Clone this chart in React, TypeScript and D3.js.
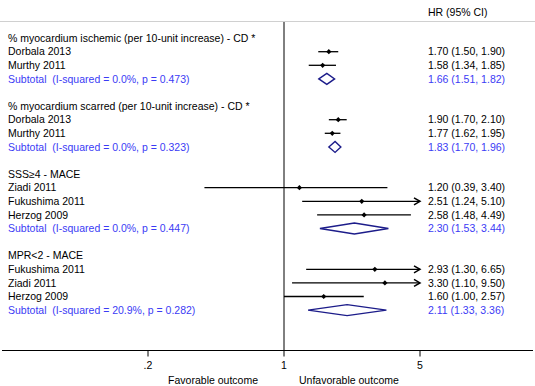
import { useEffect, useRef } from "react";
import * as d3 from "d3";

// group headings
const groupTitles = [
  "% myocardium ischemic (per 10-unit increase) - CD *",
  "% myocardium scarred (per 10-unit increase) - CD *",
  "SSS≥4 - MACE",
  "MPR<2 - MACE",
];

// studies per group
const studyNames = [
  ["Dorbala 2013", "Murthy 2011"],
  ["Dorbala 2013", "Murthy 2011"],
  ["Ziadi 2011", "Fukushima 2011", "Herzog 2009"],
  ["Fukushima 2011", "Ziadi 2011", "Herzog 2009"],
];
const studyHR = [
  [1.7, 1.58],
  [1.9, 1.77],
  [1.2, 2.51, 2.58],
  [2.93, 3.3, 1.6],
];
const studyLo = [
  [1.5, 1.34],
  [1.7, 1.62],
  [0.39, 1.24, 1.48],
  [1.3, 1.1, 1.0],
];
const studyHi = [
  [1.9, 1.85],
  [2.1, 1.95],
  [3.4, 5.1, 4.49],
  [6.65, 9.5, 2.57],
];

// pooled estimates
const subtotalI2 = ["0.0%", "0.0%", "0.0%", "20.9%"];
const subtotalP = ["0.473", "0.323", "0.447", "0.282"];
const subtotalHR = [1.66, 1.83, 2.3, 2.11];
const subtotalLo = [1.51, 1.7, 1.53, 1.33];
const subtotalHi = [1.82, 1.96, 3.44, 3.36];

const tickValues = [0.2, 1, 5];
const tickLabels = [".2", "1", "5"];

type Row = {
  kind: "head" | "study" | "sub";
  label: string;
  hr?: number;
  lo?: number;
  hi?: number;
};

const fmt = (v: number) => v.toFixed(2);

export default function App() {
  const ref = useRef<SVGSVGElement>(null);

  useEffect(() => {
    if (!ref.current) return;
    const svg = d3.select(ref.current);
    svg.selectAll("*").remove();

    const width = 535;
    const font = "'Liberation Sans', Arial, Helvetica, sans-serif";
    const fontSize = 10.5;
    const blue = "#3b3bf5";
    const navy = "#1c1c8a";

    // build rows with a blank line between groups
    const rows: (Row & { index: number })[] = [];
    let idx = 0;
    groupTitles.forEach((title, g) => {
      rows.push({ kind: "head", label: title, index: idx++ });
      studyNames[g].forEach((name, s) => {
        rows.push({
          kind: "study",
          label: name,
          hr: studyHR[g][s],
          lo: studyLo[g][s],
          hi: studyHi[g][s],
          index: idx++,
        });
      });
      rows.push({
        kind: "sub",
        label: `Subtotal  (I-squared = ${subtotalI2[g]}, p = ${subtotalP[g]})`,
        hr: subtotalHR[g],
        lo: subtotalLo[g],
        hi: subtotalHi[g],
        index: idx++,
      });
      idx++; // blank
    });

    const x = d3.scaleLog().domain([0.2, 5]).range([148, 420]);
    const y = d3.scaleLinear().domain([0, 20]).range([38.1, 310.1]);
    const axisY = 350.5;

    // header
    svg.append("text")
      .attr("x", 428).attr("y", 16)
      .attr("font-family", font).attr("font-size", fontSize)
      .text("HR (95% CI)");

    svg.append("line")
      .attr("x1", 0).attr("x2", width)
      .attr("y1", 21.5).attr("y2", 21.5)
      .attr("stroke", "#d0d0d0").attr("stroke-width", 1);

    // null line
    svg.append("line")
      .attr("x1", x(1)).attr("x2", x(1))
      .attr("y1", 22).attr("y2", axisY)
      .attr("stroke", "#000").attr("stroke-width", 1);

    // labels on the left
    svg.append("g").selectAll("text")
      .data(rows)
      .enter().append("text")
      .attr("x", 8)
      .attr("y", d => y(d.index))
      .attr("dy", "0.35em")
      .attr("font-family", font).attr("font-size", fontSize)
      .attr("fill", d => (d.kind === "sub" ? blue : "#000"))
      .style("white-space", "pre")
      .text(d => d.label);

    // values on the right
    const valued = rows.filter(d => d.kind !== "head");
    svg.append("g").selectAll("text")
      .data(valued)
      .enter().append("text")
      .attr("x", 428)
      .attr("y", d => y(d.index))
      .attr("dy", "0.35em")
      .attr("font-family", font).attr("font-size", fontSize)
      .attr("fill", d => (d.kind === "sub" ? blue : "#000"))
      .text(d => `${fmt(d.hr!)} (${fmt(d.lo!)}, ${fmt(d.hi!)})`);

    // study CIs
    const [xMin, xMax] = x.domain();
    const studies = rows.filter(d => d.kind === "study");
    const sg = svg.append("g");
    studies.forEach(d => {
      const cy = y(d.index);
      const x1 = x(Math.max(d.lo!, xMin));
      const x2 = x(Math.min(d.hi!, xMax));
      sg.append("line")
        .attr("x1", x1).attr("x2", x2)
        .attr("y1", cy).attr("y2", cy)
        .attr("stroke", "#000").attr("stroke-width", 1.3);
      if (d.hi! > xMax) {
        sg.append("path")
          .attr("d", `M${x2 - 6},${cy - 3.5}L${x2},${cy}L${x2 - 6},${cy + 3.5}`)
          .attr("fill", "none").attr("stroke", "#000").attr("stroke-width", 1.5);
      }
      const px = x(d.hr!);
      const r = 2.6;
      sg.append("path")
        .attr("d", `M${px},${cy - r}L${px + r},${cy}L${px},${cy + r}L${px - r},${cy}Z`)
        .attr("fill", "#000");
    });

    // pooled diamonds
    const subs = rows.filter(d => d.kind === "sub");
    svg.append("g").selectAll("path")
      .data(subs)
      .enter().append("path")
      .attr("d", d => {
        const cy = y(d.index);
        const h = 5.5;
        return `M${x(d.lo!)},${cy}L${x(d.hr!)},${cy - h}L${x(d.hi!)},${cy}L${x(d.hr!)},${cy + h}Z`;
      })
      .attr("fill", "none").attr("stroke", navy).attr("stroke-width", 1.4);

    // x axis
    svg.append("line")
      .attr("x1", 2).attr("x2", 533)
      .attr("y1", axisY).attr("y2", axisY)
      .attr("stroke", "#000").attr("stroke-width", 1);

    const ticks = svg.append("g");
    tickValues.forEach((v, i) => {
      ticks.append("line")
        .attr("x1", x(v)).attr("x2", x(v))
        .attr("y1", axisY).attr("y2", axisY + 6)
        .attr("stroke", "#000").attr("stroke-width", 1);
      ticks.append("text")
        .attr("x", x(v)).attr("y", 369)
        .attr("text-anchor", "middle")
        .attr("font-family", font).attr("font-size", fontSize)
        .text(tickLabels[i]);
    });

    svg.append("text")
      .attr("x", x(1) - 26).attr("y", 384)
      .attr("text-anchor", "end")
      .attr("font-family", font).attr("font-size", fontSize)
      .text("Favorable outcome");
    svg.append("text")
      .attr("x", x(1) + 15).attr("y", 384)
      .attr("font-family", font).attr("font-size", fontSize)
      .text("Unfavorable outcome");
  }, []);

  return (
    <svg
      ref={ref}
      width={535}
      height={386}
      style={{ position: "fixed", left: 0, top: 0, background: "#fff" }}
    />
  );
}
